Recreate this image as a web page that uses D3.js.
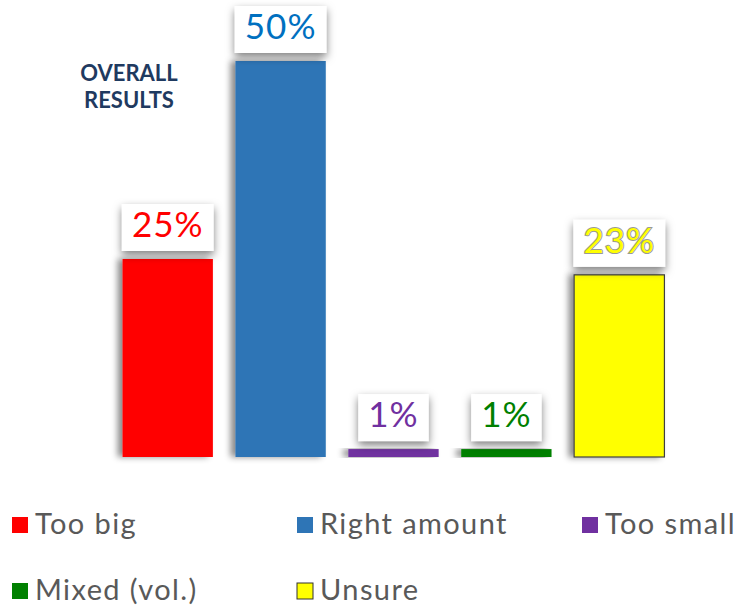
<!DOCTYPE html>
<html><head><meta charset="utf-8">
<script src="https://cdn.jsdelivr.net/npm/d3@7"></script>
<style>body{margin:0;background:#fff}svg{display:block}</style>
</head><body>
<svg id="c" width="753" height="605"></svg>
<script>
const categories = ["Too big","Right amount","Too small","Mixed (vol.)","Unsure"];
const values = [25, 50, 1, 1, 23];
const labels = ["25%","50%","1%","1%","23%"];
const colors = ["#ff0000","#2e75b6","#7030a0","#008000","#ffff00"];
const labelColors = ["#ff0000","#0070c0","#7030a0","#008000","#ffff00"];

const svg = d3.select("#c");
const defs = svg.append("defs");
const f1 = defs.append("filter").attr("id","barShadow").attr("x","-30%").attr("y","-10%").attr("width","160%").attr("height","120%");
f1.append("feDropShadow").attr("dx",-5).attr("dy",0).attr("stdDeviation",3).attr("flood-color","#000").attr("flood-opacity",0.45);
const f2 = defs.append("filter").attr("id","boxShadow").attr("x","-30%").attr("y","-30%").attr("width","160%").attr("height","170%");
f2.append("feDropShadow").attr("dx",0).attr("dy",4).attr("stdDeviation",4).attr("flood-color","#000").attr("flood-opacity",0.5);
const f3 = defs.append("filter").attr("id","lineShadow").attr("x","-5%").attr("y","-200%").attr("width","110%").attr("height","500%");
f3.append("feDropShadow").attr("dx",0).attr("dy",1).attr("stdDeviation",1).attr("flood-color","#000").attr("flood-opacity",0.2);

const font = "Lato, 'Open Sans', sans-serif";
const x = d3.scaleBand().domain(categories).range([100, 687]).paddingInner(0.2).paddingOuter(0.2);
const y = d3.scaleLinear().domain([0, 50]).range([457, 61]);

// baseline
svg.append("line").attr("x1",27).attr("x2",753).attr("y1",y(0)).attr("y2",y(0))
  .attr("stroke","#d9d9d9").attr("stroke-width",2).attr("filter","url(#lineShadow)");

// bars
svg.selectAll("rect.bar").data(categories).join("rect").attr("class","bar")
  .attr("x", d => x(d)).attr("width", x.bandwidth())
  .attr("y", (d,i) => y(values[i])).attr("height", (d,i) => y(0) - y(values[i]))
  .attr("fill", (d,i) => colors[i])
  .attr("stroke", (d,i) => i === 4 ? "#404040" : "none").attr("stroke-width", 1.2)
  .attr("filter","url(#barShadow)");

// labels
const lg = svg.selectAll("g.lbl").data(categories).join("g").attr("class","lbl");
lg.each(function(d,i){
  const g = d3.select(this);
  const cx = x(d) + x.bandwidth()/2;
  const bottom = y(values[i]) - 8;
  const t = g.append("text").attr("x",cx).attr("y",bottom - 14)
    .attr("text-anchor","middle").attr("font-family",font).attr("font-size",35)
    .attr("letter-spacing",1)
    .attr("fill",labelColors[i]).text(labels[i]);
  if (i === 4) t.attr("stroke","#999").attr("stroke-width",2).attr("paint-order","stroke");
  const w = t.node().getComputedTextLength() + 20;
  g.insert("rect","text").attr("x",cx - w/2).attr("y",bottom - 47).attr("width",w).attr("height",47)
    .attr("fill","#fff").attr("filter","url(#boxShadow)");
});

// title
const tstyle = s => s.attr("font-family",font).attr("font-weight","bold").attr("font-size",22)
  .attr("fill","#1f3a60").attr("text-anchor","middle").attr("x",129);
svg.append("text").call(tstyle).attr("y",81).text("OVERALL");
svg.append("text").call(tstyle).attr("y",108).text("RESULTS");

// legend
const legPos = [[12,525],[297,525],[582,525],[12,591],[297,591]];
const leg = svg.selectAll("g.leg").data(categories).join("g").attr("class","leg")
  .attr("transform",(d,i)=>`translate(${legPos[i][0]},${legPos[i][1]})`);
leg.append("rect").attr("x",0).attr("y",-8).attr("width",16).attr("height",16)
  .attr("fill",(d,i)=>colors[i]).attr("stroke",(d,i)=> i===4 ? "#333" : "none").attr("stroke-width",1);
leg.append("text").attr("x",23).attr("y",9).attr("font-family",font).attr("font-size",29)
  .attr("letter-spacing",1.4)
  .attr("fill","#595959").text(d=>d);
</script>
</body></html>
